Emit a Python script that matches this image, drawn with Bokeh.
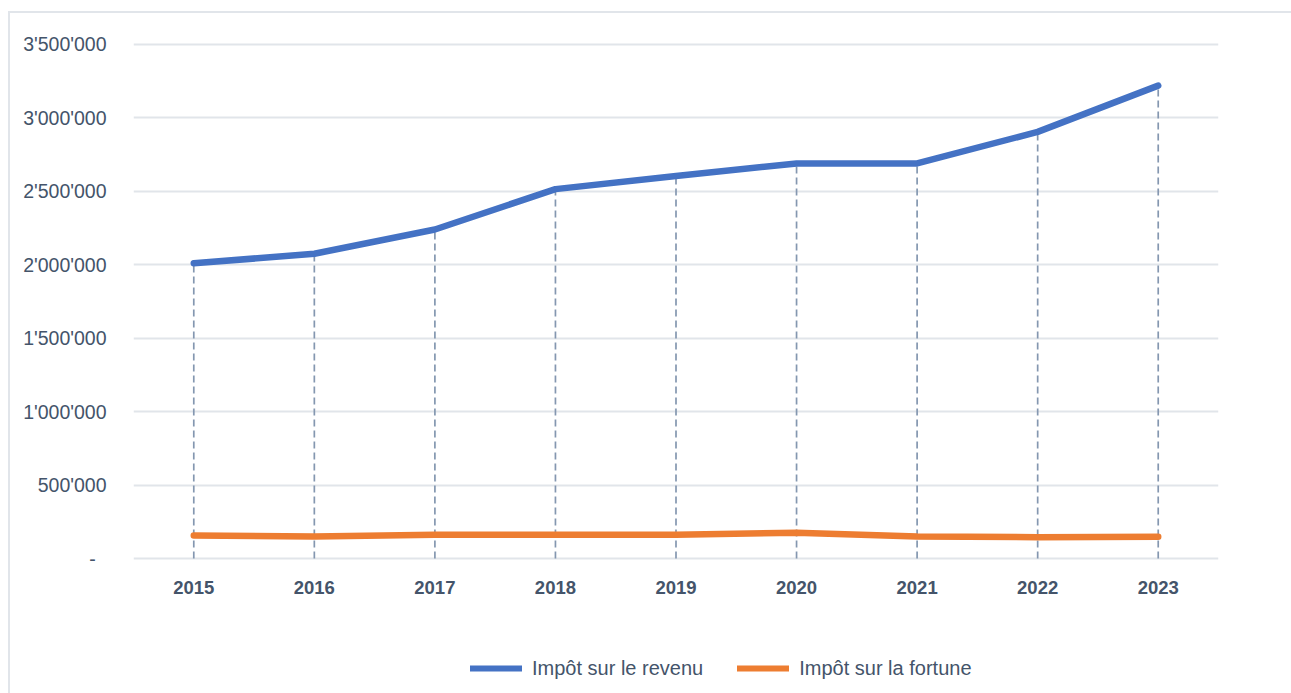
from bokeh.plotting import figure
from bokeh.layouts import column
from bokeh.models import FactorRange, Range1d, FixedTicker, Legend, LegendItem, ColumnDataSource
from bokeh.embed import file_html
from bokeh.resources import INLINE

years = ["2015", "2016", "2017", "2018", "2019", "2020", "2021", "2022", "2023"]
revenu = [2010000, 2075000, 2240000, 2515000, 2605000, 2690000, 2690000, 2905000, 3220000]
fortune = [157000, 150000, 162000, 162000, 162000, 176000, 150000, 145000, 148000]
y_ticks = [0, 500000, 1000000, 1500000, 2000000, 2500000, 3000000, 3500000]
y_tick_labels = ["-\u00a0\u00a0", "500'000", "1'000'000", "1'500'000", "2'000'000", "2'500'000", "3'000'000", "3'500'000"]
series_names = ["Impôt sur le revenu", "Impôt sur la fortune"]
series_colors = ["#4472c4", "#ed7d31"]

FONT = "Liberation Sans"
TXT = "#44546a"

p = figure(width=1281, height=597, x_range=FactorRange(*years), y_range=Range1d(-27000, 3527000),
           output_backend="svg", toolbar_location=None,
           min_border_left=123, min_border_right=73, min_border_top=27, min_border_bottom=48)
p.outline_line_color = None
p.background_fill_color = "white"
p.border_fill_color = "white"

p.xgrid.grid_line_color = None
p.ygrid.grid_line_color = "#e1e5ea"
p.ygrid.grid_line_width = 2
p.ygrid.ticker = FixedTicker(ticks=y_ticks)

p.yaxis.ticker = FixedTicker(ticks=y_ticks)
p.yaxis.major_label_overrides = {t: l for t, l in zip(y_ticks, y_tick_labels)}
p.yaxis.axis_line_color = None
p.yaxis.major_tick_line_color = None
p.yaxis.minor_tick_line_color = None
p.yaxis.major_label_text_font = FONT
p.yaxis.major_label_text_font_size = "19.5px"
p.yaxis.major_label_text_color = TXT
p.yaxis.major_label_standoff = 21

p.xaxis.axis_line_color = None
p.xaxis.major_tick_line_color = None
p.xaxis.major_label_text_font = FONT
p.xaxis.major_label_text_font_size = "18.5px"
p.xaxis.major_label_text_font_style = "bold"
p.xaxis.major_label_text_color = TXT
p.xaxis.major_label_standoff = 12

src = ColumnDataSource(dict(year=years, revenu=revenu, fortune=fortune, zero=[0] * len(years)))
p.segment(x0="year", y0="zero", x1="year", y1="revenu", source=src,
          line_color="#8497b0", line_width=1.7, line_dash="7 4")
p.line(x="year", y="revenu", source=src, line_color=series_colors[0], line_width=6.5,
       line_cap="round", line_join="round")
p.line(x="year", y="fortune", source=src, line_color=series_colors[1], line_width=6.5,
       line_cap="round", line_join="round")

# legend panel (frame edges are aligned with the main plot by the column layout)
pl = figure(width=1281, height=83, x_range=Range1d(0, 1), y_range=Range1d(0, 1),
            output_backend="svg", toolbar_location=None,
            min_border_left=0, min_border_right=0, min_border_top=0, min_border_bottom=0)
pl.axis.visible = False
pl.grid.grid_line_color = None
pl.outline_line_color = None
nan = float("nan")
lr = [pl.line(x=[nan], y=[nan], line_color=c, line_width=6, line_cap="round") for c in series_colors]
legend = Legend(items=[LegendItem(label=n, renderers=[r]) for n, r in zip(series_names, lr)],
                orientation="horizontal", location=(337, 13),
                glyph_width=52, glyph_height=24, label_standoff=10, spacing=34,
                label_text_font=FONT, label_text_font_size="20px", label_text_color=TXT,
                border_line_color=None, background_fill_alpha=0, margin=0, padding=0)
pl.add_layout(legend, "center")

layout = column(p, pl, spacing=0,
                styles={"margin-left": "8px", "margin-top": "11px",
                        "border-top": "2px solid #e1e5ea", "border-left": "2px solid #e1e5ea"})

open("out.html", "w").write(file_html(layout, INLINE))
